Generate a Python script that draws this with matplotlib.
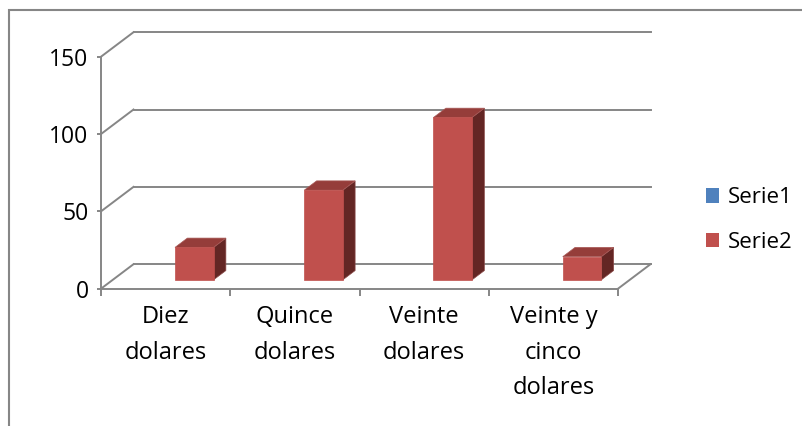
import matplotlib
matplotlib.use("Agg")
import matplotlib.pyplot as plt
from matplotlib.patches import Polygon, Rectangle, Patch

# ---- data ----
categories = ["Diez\ndolares", "Quince\ndolares", "Veinte\ndolares", "Veinte y\ncinco\ndolares"]
serie1 = [None, None, None, None]
serie2 = [21, 58, 105, 15]
yticks = [0, 50, 100, 150]
series_names = ["Serie1", "Serie2"]

# ---- style ----
W, H = 802, 426
FONT = "Open Sans"
GRID = "#868686"
FRONT = "#C0504D"
TOP = "#953D3A"
SIDE = "#632624"
BLUE = "#4F81BD"

fig = plt.figure(figsize=(W / 100, H / 100), dpi=100)

# plot-area (front plane) in pixels
x0p, x1p = 101, 618
y0p, y1p = 288.7, 56.7
ax = fig.add_axes([x0p / W, 1 - y0p / H, (x1p - x0p) / W, (y0p - y1p) / H])
ax.set_xlim(0, len(categories))
ax.set_ylim(0, 150)
ax.patch.set_visible(False)

# depth offset in data units
px_per_x = (x1p - x0p) / len(categories)
px_per_y = (y0p - y1p) / 150.0
DX = 32.5 / px_per_x
DY = 24.5 / px_per_y

def proj(x, z, v):
    return (x + z * DX, v + z * DY)

# back wall gridlines + left wall diagonals
n = len(categories)
for v in yticks:
    ax.plot([0 + DX, n + DX], [v + DY, v + DY], color=GRID, lw=1.4, clip_on=False, zorder=1)
    ax.plot([0, DX], [v, v + DY], color=GRID, lw=1.4, clip_on=False, zorder=1)
# floor right diagonal
ax.plot([n, n + DX], [0, DY], color=GRID, lw=1.4, clip_on=False, zorder=1)

# bars (Serie2)
bx0, bw = 0.482, 0.298
z0, z1 = 0.36, 0.74
for i, val in enumerate(serie2):
    xl, xr = i + bx0, i + bx0 + bw
    front = [proj(xl, z0, 0), proj(xr, z0, 0), proj(xr, z0, val), proj(xl, z0, val)]
    top = [proj(xl, z0, val), proj(xr, z0, val), proj(xr, z1, val), proj(xl, z1, val)]
    side = [proj(xr, z0, 0), proj(xr, z1, 0), proj(xr, z1, val), proj(xr, z0, val)]
    ax.add_patch(Polygon(side, closed=True, facecolor=SIDE, edgecolor="#8a4a48", lw=0.5, zorder=3, clip_on=False))
    ax.add_patch(Polygon(top, closed=True, facecolor=TOP, edgecolor="#a85a58", lw=0.5, zorder=3, clip_on=False))
    ax.add_patch(Polygon(front, closed=True, facecolor=FRONT, edgecolor=FRONT, lw=0.5, zorder=4, clip_on=False))

# spines: front axes
for s in ["top", "right"]:
    ax.spines[s].set_visible(False)
for s in ["left", "bottom"]:
    ax.spines[s].set_color(GRID)
    ax.spines[s].set_linewidth(1.4)
    ax.spines[s].set_zorder(2)

ax.set_yticks(yticks)
ax.set_yticklabels([str(t) for t in yticks], fontfamily=FONT, fontsize=16.5)
ax.tick_params(axis="y", length=3, width=1.4, color=GRID, pad=6)

ax.set_xticks([i + 0.5 for i in range(n)])
ax.set_xticklabels(categories, fontfamily=FONT, fontsize=17, linespacing=1.62)
ax.set_xticks(list(range(n + 1)), minor=True)
ax.tick_params(axis="x", which="major", length=0, pad=12)
ax.tick_params(axis="x", which="minor", length=5, width=1.4, color=GRID)

# legend
handles = [Patch(facecolor=BLUE, edgecolor="none"), Patch(facecolor=FRONT, edgecolor="none")]
fig.legend(handles, series_names, loc="center left",
           bbox_to_anchor=(706 / W, 1 - 220 / H), frameon=False,
           prop={"family": FONT, "size": 16},
           handlelength=0.6, handleheight=0.6, handletextpad=0.4,
           labelspacing=1.05, borderpad=0, borderaxespad=0)

# outer chart border (extends past right & bottom)
fig.add_artist(Rectangle((8.5 / W, -0.1), 1.2, 1 - 9.5 / H + 0.1, transform=fig.transFigure,
                         facecolor="none", edgecolor=GRID, lw=1.5))

fig.savefig("out.png", dpi=100)
